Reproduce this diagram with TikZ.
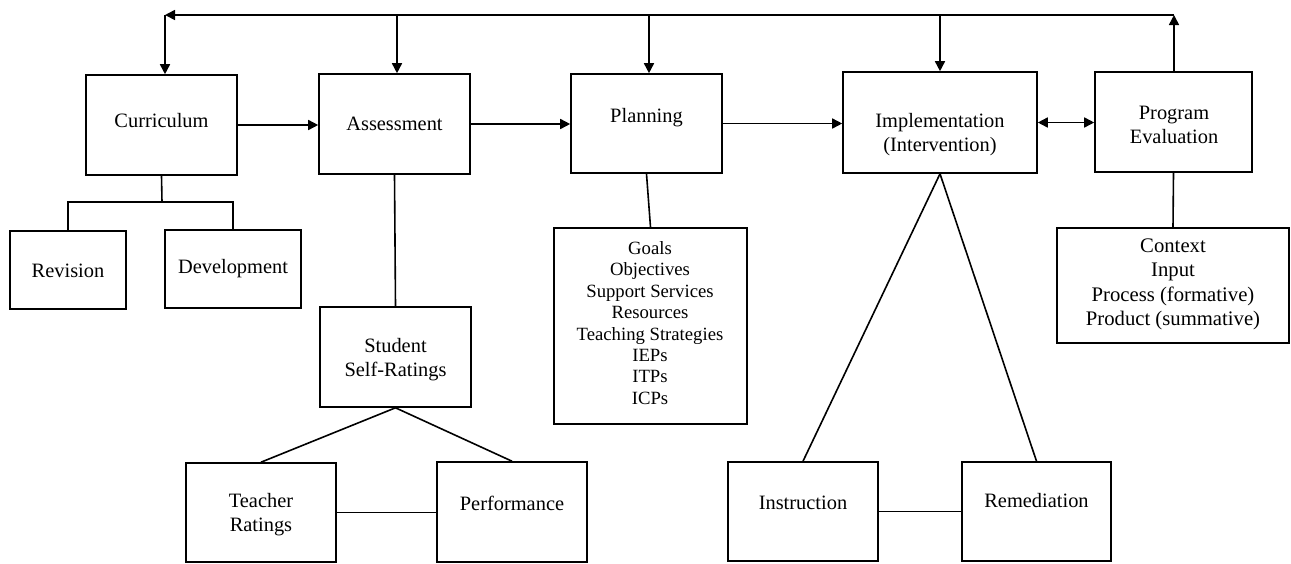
\documentclass[tikz,border=0pt]{standalone}
\usepackage{fontspec}
\setmainfont{Liberation Serif}
\usetikzlibrary{arrows.meta}
\begin{document}
\begin{tikzpicture}[x=0.5pt,y=-0.5pt,
  box/.style={draw,line width=0.8pt,inner sep=0pt},
  wh/.style 2 args={minimum width=#1*0.5pt,minimum height=#2*0.5pt},
  txt/.style={inner sep=0pt,align=center,font=\fontsize{10.2}{12}\selectfont},
  lst/.style={inner sep=0pt,align=center,font=\fontsize{9.35}{10.7}\selectfont},
  lstb/.style={inner sep=0pt,align=center,font=\fontsize{10.35}{12.2}\selectfont},
  conn/.style={line width=0.8pt},
  arr/.style={conn,-{Triangle[length=5pt,width=5pt]}},
  darr/.style={conn,{Triangle[length=5pt,width=5pt]}-{Triangle[length=5pt,width=5pt]}}]
\fill[white] (0,0) rectangle (1291,563);
\useasboundingbox (0,0) rectangle (1291,563);

% boxes
\node[box,wh={151}{100}] (cur) at (161.5,125) {};
\node[box,wh={151}{100}] (ass) at (394.5,124) {};
\node[box,wh={151}{99}]  (pla) at (646.5,123.5) {};
\node[box,wh={194}{101}] (imp) at (940,122.5) {};
\node[box,wh={157}{100}] (pev) at (1173.5,122) {};
\node[box,wh={116}{78}]  (rev) at (68,270) {};
\node[box,wh={136}{78}]  (dev) at (233,269) {};
\node[box,wh={151}{100}] (stu) at (395.5,357) {};
\node[box,wh={150}{99}]  (tea) at (261,512.5) {};
\node[box,wh={150}{100}] (per) at (512,512) {};
\node[box,wh={193}{196}] (goa) at (650.5,326) {};
\node[box,wh={150}{99}]  (ins) at (803,511.5) {};
\node[box,wh={149}{99}]  (rem) at (1036.5,511.5) {};
\node[box,wh={232}{115}] (con) at (1173,285.5) {};

% texts
\node[txt] (curT) at (161.5,121) {Curriculum};
\node[txt] (assT) at (394.5,124) {Assessment};
\node[txt] (plaT) at (646.5,118) {Planning};
\node[txt] (impT) at (940,135) {Implementation\\(Intervention)};
\node[txt] (pevT) at (1174,125) {Program\\Evaluation};
\node[txt] (revT) at (68,271) {Revision};
\node[txt] (devT) at (233,269) {Development};
\node[txt] (stuT) at (395.5,360) {Student\\Self-Ratings};
\node[txt] (teaT) at (261,515) {Teacher\\Ratings};
\node[txt] (perT) at (512,503) {Performance};
\node[lst] (goaT) at (650,323) {Goals\\Objectives\\Support Services\\Resources\\Teaching Strategies\\IEPs\\ITPs\\ICPs};
\node[txt] (insT) at (803,503) {Instruction};
\node[txt] (remT) at (1036.5,501) {Remediation};
\node[lstb] (conT) at (1173,284.5) {Context\\Input\\Process (formative)\\Product (summative)};

% top feedback line
\coordinate (tl) at (165,15);
\coordinate (tr) at (1174,15);
\coordinate (t1) at (397,15);
\coordinate (t2) at (649,15);
\coordinate (t3) at (940,15);
\draw[arr] (tr |- pev.north) -- (tr);
\draw[arr] (tr) -- (tl);
\draw[arr] (tl) -- (tl |- cur.north);
\draw[arr] (t1) -- (t1 |- ass.north);
\draw[arr] (t2) -- (t2 |- pla.north);
\draw[arr] (t3) -- (t3 |- imp.north);

% main flow
\draw[arr] (cur.east) -- (cur.east -| ass.west);
\draw[arr] (ass.east) -- (ass.east -| pla.west);
\draw[arr] (pla.east) -- (pla.east -| imp.west);
\draw[darr] (imp.east) -- (imp.east -| pev.west);

% curriculum tree
\coordinate (cj) at (162,202);
\draw[conn] (cur.south) -- (cj);
\draw[conn] (rev.north) |- (cj) -| (dev.north);

% assessment tree
\draw[conn] (ass.south) -- (stu.north);
\draw[conn] (stu.south) -- (tea.north);
\draw[conn] (stu.south) -- (per.north);
\draw[conn] (tea.east) -- (tea.east -| per.west);

% planning
\draw[conn] (pla.south) -- (goa.north);

% implementation tree
\draw[conn] (imp.south) -- (ins.north);
\draw[conn] (imp.south) -- (rem.north);
\draw[conn] (ins.east) -- (ins.east -| rem.west);

% program evaluation
\draw[conn] (pev.south) -- (con.north);
\end{tikzpicture}
\end{document}
